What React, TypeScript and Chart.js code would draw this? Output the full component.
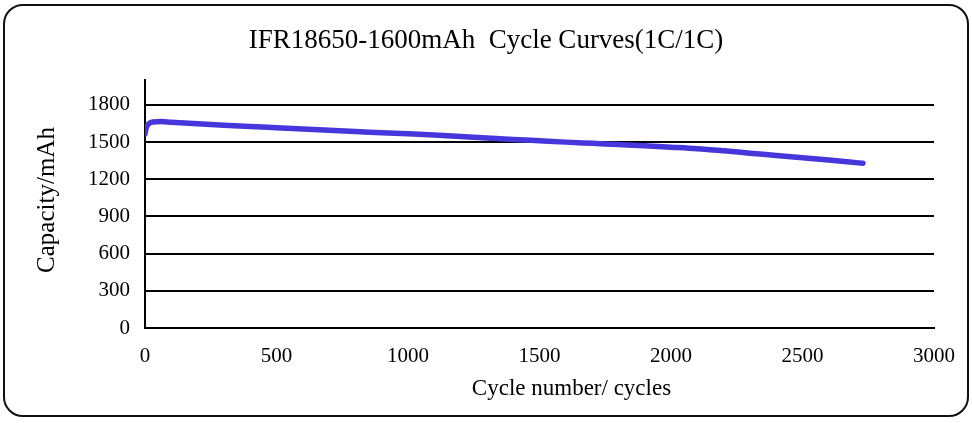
import React, { useEffect, useRef } from 'react';
import { Chart, registerables } from 'chart.js';

Chart.register(...registerables);

const chartTitle = 'IFR18650-1600mAh  Cycle Curves(1C/1C)';
const xAxisTitle = 'Cycle number/ cycles';
const yAxisTitle = 'Capacity/mAh';

const cycles = [0, 5, 15, 30, 60, 100, 200, 300, 400, 500, 600, 700, 800, 900, 1000, 1100, 1200, 1300, 1400, 1500, 1600, 1700, 1800, 1900, 2000, 2100, 2200, 2300, 2400, 2500, 2600, 2680, 2730];
const capacity = [1565, 1615, 1648, 1662, 1665, 1660, 1648, 1636, 1625, 1615, 1605, 1595, 1585, 1575, 1566, 1556, 1545, 1533, 1521, 1510, 1499, 1489, 1479, 1469, 1458, 1446, 1429, 1410, 1392, 1373, 1354, 1339, 1328];

const yTicks = [0, 300, 600, 900, 1200, 1500, 1800];
const xTicks = [0, 500, 1000, 1500, 2000, 2500, 3000];

const FONT = '"Liberation Serif", "Times New Roman", serif';

const axisTitles = {
  id: 'axisTitles',
  afterDraw(chart: any) {
    const { ctx, chartArea } = chart;
    ctx.save();
    ctx.fillStyle = '#000';
    ctx.font = `23px ${FONT}`;
    ctx.textAlign = 'center';
    ctx.textBaseline = 'middle';
    ctx.fillText(xAxisTitle, (chartArea.left + chartArea.right) / 2 + 32, chartArea.bottom + 61);
    ctx.translate(47, (chartArea.top + chartArea.bottom) / 2 - 4);
    ctx.rotate(-Math.PI / 2);
    ctx.font = `25px ${FONT}`;
    ctx.fillText(yAxisTitle, 0, 0);
    ctx.restore();
  },
};

export default function App() {
  const ref = useRef<HTMLCanvasElement | null>(null);

  useEffect(() => {
    if (!ref.current) return;
    const chart = new Chart(ref.current, {
      type: 'line',
      data: {
        datasets: [
          {
            data: cycles.map((c, i) => ({ x: c, y: capacity[i] })),
            borderColor: '#4636dc',
            borderWidth: 5.5,
            borderCapStyle: 'round',
            borderJoinStyle: 'round',
            pointRadius: 0,
            cubicInterpolationMode: 'monotone',
            fill: false,
          },
        ],
      },
      plugins: [axisTitles],
      options: {
        animation: false,
        responsive: false,
        layout: { padding: { left: 0, right: 0, top: 0, bottom: 0 } },
        plugins: {
          legend: { display: false },
          tooltip: { enabled: false },
          title: {
            display: true,
            text: chartTitle,
            color: '#000',
            font: { family: FONT, size: 27, weight: 'normal' },
            padding: { top: 25, bottom: 22.6 },
          },
        },
        scales: {
          x: {
            type: 'linear',
            min: 0,
            max: 3000,
            afterBuildTicks: (scale: any) => {
              scale.ticks = xTicks.map((v) => ({ value: v }));
            },
            afterFit: (scale: any) => {
              scale.height = 95;
              scale.paddingRight = 38;
            },
            grid: { display: false, drawTicks: false },
            border: { display: true, color: '#000', width: 2 },
            ticks: {
              color: '#000',
              padding: 16,
              maxRotation: 0,
              font: { family: FONT, size: 21 },
              callback: (v: any) => String(v),
            },
          },
          y: {
            type: 'linear',
            min: 0,
            max: 2000,
            afterBuildTicks: (scale: any) => {
              scale.ticks = yTicks.map((v) => ({ value: v }));
            },
            afterFit: (scale: any) => {
              scale.width = 145;
            },
            grid: { display: true, drawTicks: false, color: '#000', lineWidth: 2 },
            border: { display: true, color: '#000', width: 2 },
            ticks: {
              color: '#000',
              padding: 15,
              font: { family: FONT, size: 21 },
              callback: (v: any) => String(v),
            },
          },
        },
      },
    } as any);
    return () => chart.destroy();
  }, []);

  return (
    <div style={{ position: 'fixed', left: 0, top: 0, width: 972, height: 423, background: '#fff' }}>
      <div
        style={{
          position: 'absolute',
          left: 3,
          top: 4,
          width: 966,
          height: 413,
          boxSizing: 'border-box',
          border: '2px solid #111',
          borderRadius: 20,
        }}
      />
      <canvas ref={ref} width={972} height={423} style={{ position: 'absolute', left: 0, top: 0 }} />
    </div>
  );
}
